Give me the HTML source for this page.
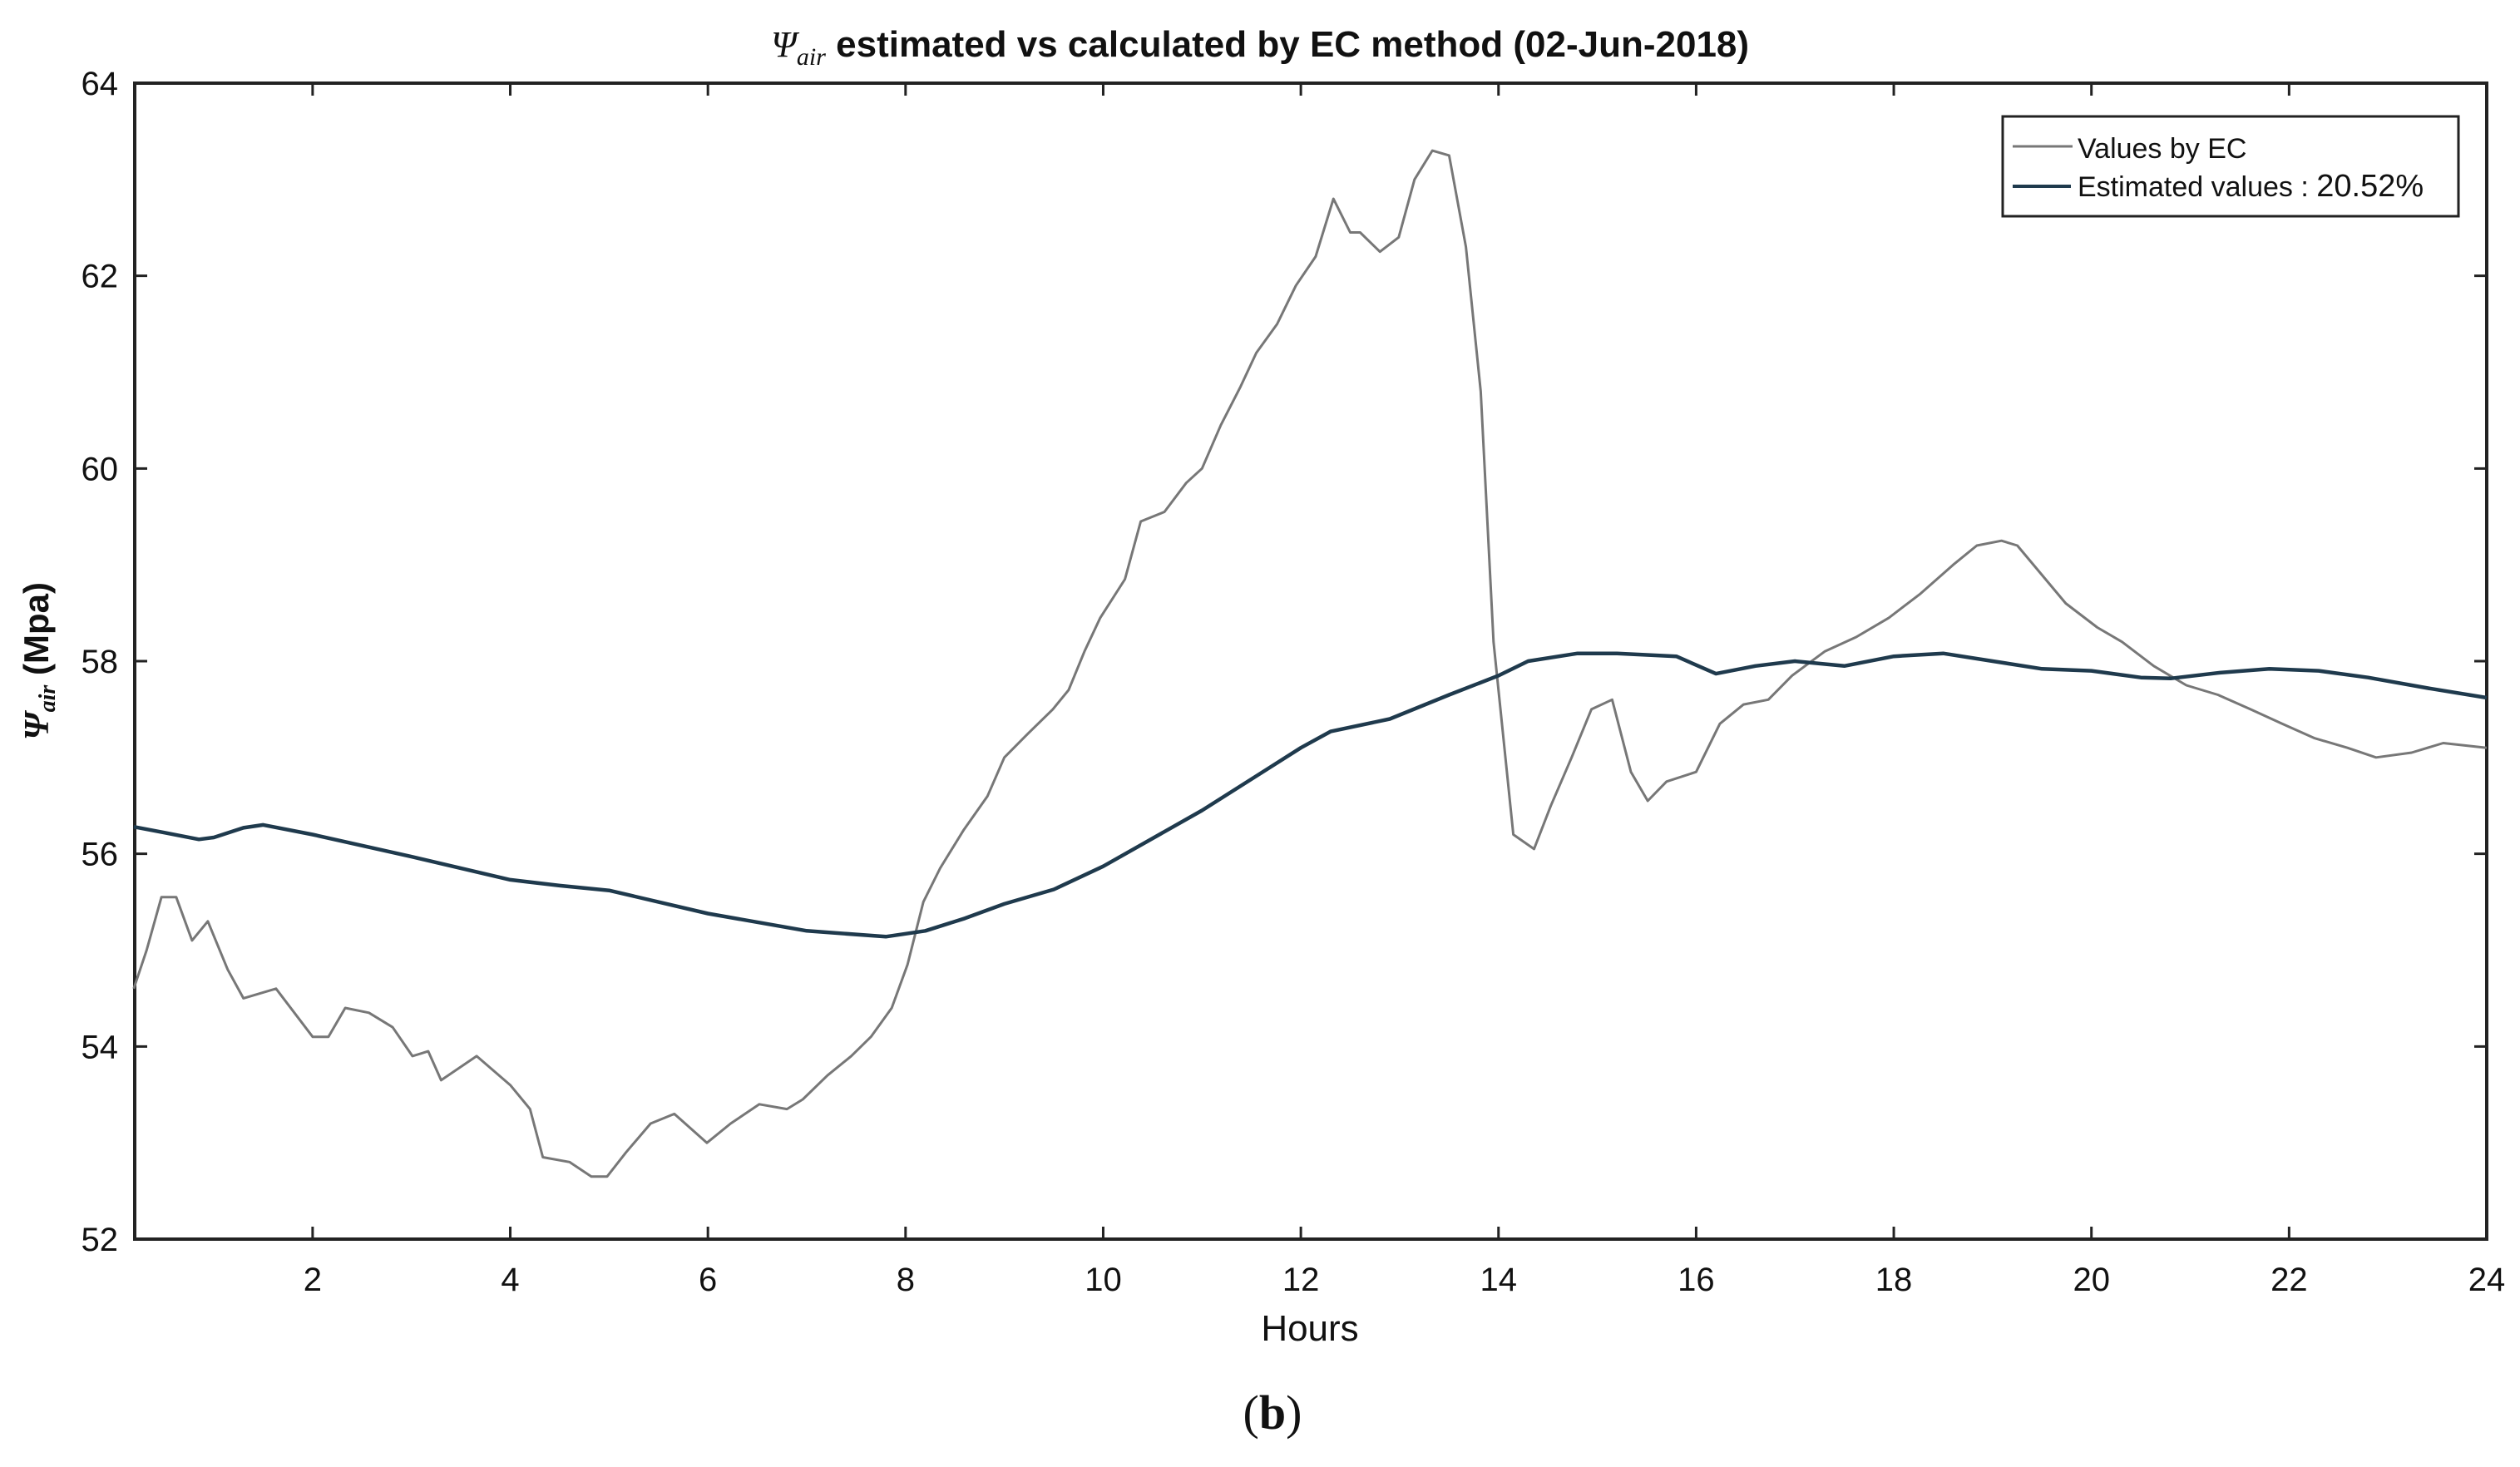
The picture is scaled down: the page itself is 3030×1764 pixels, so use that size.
<!DOCTYPE html>
<html><head><meta charset="utf-8"><style>
html,body{margin:0;padding:0;background:#fff}
svg{display:block}
text{font-family:"Liberation Sans",sans-serif;fill:#111}
</style></head><body>
<svg id="chart" width="3030" height="1764" viewBox="0 0 3030 1764">
<text x="1515" y="68" text-anchor="middle" font-size="44" font-weight="bold"><tspan font-family="Liberation Serif" font-style="italic" font-weight="normal">Ψ</tspan><tspan font-family="Liberation Serif" font-style="italic" font-weight="normal" font-size="30" dy="10">air</tspan><tspan dy="-10">  estimated vs calculated by EC method (02-Jun-2018)</tspan></text>
<g id="axes"></g>
<g id="series"></g>
<text x="1575" y="1612" text-anchor="middle" font-size="44">Hours</text>
<text transform="translate(58,795) rotate(-90)" text-anchor="middle" font-size="42" font-weight="bold"><tspan font-family="Liberation Serif" font-style="italic">Ψ</tspan><tspan font-family="Liberation Serif" font-style="italic" font-size="28" dy="8">air</tspan><tspan dy="-8"> (Mpa)</tspan></text>
<text x="1530" y="1718" text-anchor="middle" font-size="58" font-family="Liberation Serif" style="font-family:'Liberation Serif',serif">(<tspan font-weight="bold">b</tspan>)</text>
<g>
<rect x="2408" y="140" width="548" height="120" fill="#fff" stroke="#222" stroke-width="3"/>
<line x1="2420" y1="176" x2="2492" y2="176" stroke="#777" stroke-width="3"/>
<text x="2498" y="190" font-size="34">Values by EC</text>
<line x1="2420" y1="224" x2="2490" y2="224" stroke="#1f3a4d" stroke-width="4"/>
<text x="2498" y="236" font-size="34">Estimated values : <tspan font-size="38">20.52%</tspan></text>
</g>
</svg>
<script>
const xTicks=[2,4,6,8,10,12,14,16,18,20,22,24];
const yTicks=[52,54,56,58,60,62,64];
const ecHours=[0.19,0.32,0.47,0.62,0.78,0.94,1.14,1.30,1.63,2.0,2.16,2.33,2.57,2.81,3.01,3.17,3.30,3.66,4.0,4.20,4.33,4.60,4.82,4.98,5.17,5.42,5.66,5.99,6.23,6.52,6.80,6.96,7.21,7.45,7.65,7.86,8.02,8.18,8.35,8.59,8.83,9.0,9.24,9.49,9.65,9.81,9.97,10.22,10.38,10.62,10.84,11.0,11.19,11.39,11.55,11.76,11.95,12.15,12.33,12.5,12.6,12.8,12.99,13.15,13.33,13.5,13.67,13.82,13.95,14.15,14.36,14.53,14.74,14.94,15.15,15.34,15.51,15.70,16.0,16.24,16.48,16.73,16.97,17.30,17.62,17.95,18.27,18.60,18.84,19.09,19.25,19.74,20.06,20.31,20.63,20.96,21.28,21.61,21.93,22.26,22.59,22.88,23.24,23.56,24.0];
const ecValues=[54.6,55.0,55.55,55.55,55.1,55.3,54.8,54.5,54.6,54.1,54.1,54.4,54.35,54.2,53.9,53.95,53.65,53.9,53.6,53.35,52.85,52.8,52.65,52.65,52.9,53.2,53.3,53.0,53.2,53.4,53.35,53.45,53.7,53.9,54.1,54.4,54.85,55.5,55.85,56.25,56.6,57.0,57.25,57.5,57.7,58.1,58.45,58.85,59.45,59.55,59.85,60.0,60.45,60.85,61.2,61.5,61.9,62.2,62.8,62.45,62.45,62.25,62.4,63.0,63.3,63.25,62.3,60.8,58.2,56.2,56.05,56.5,57.0,57.5,57.6,56.85,56.55,56.75,56.85,57.35,57.55,57.6,57.85,58.1,58.25,58.45,58.7,59.0,59.2,59.25,59.2,58.6,58.35,58.2,57.95,57.75,57.65,57.5,57.35,57.2,57.1,57.0,57.05,57.15,57.1];
const estHours=[0.19,0.5,0.85,1.0,1.3,1.5,2.0,3.0,4.0,4.5,5.0,6.0,7.0,7.8,8.2,8.6,9.0,9.5,10.0,11.0,12.0,12.3,12.9,13.5,14.0,14.3,14.8,15.2,15.8,16.2,16.6,17.0,17.5,18.0,18.5,19.0,19.5,20.0,20.5,20.8,21.3,21.8,22.3,22.8,23.4,24.0];
const estValues=[56.28,56.22,56.15,56.17,56.27,56.3,56.2,55.97,55.73,55.67,55.62,55.38,55.2,55.14,55.2,55.33,55.48,55.63,55.87,56.45,57.1,57.27,57.4,57.65,57.85,58.0,58.08,58.08,58.05,57.87,57.95,58.0,57.95,58.05,58.08,58.0,57.92,57.9,57.83,57.82,57.88,57.92,57.9,57.83,57.72,57.62];

const L=162,R=2990,T=100,B=1490,xMin=0.2,xMax=24,yMin=52,yMax=64;
const xs=h=>L+(h-xMin)/(xMax-xMin)*(R-L);
const ys=v=>B-(v-yMin)/(yMax-yMin)*(B-T);
const NS="http://www.w3.org/2000/svg";
const axes=document.getElementById('axes'),series=document.getElementById('series');
function mk(tag,attrs,parent){const e=document.createElementNS(NS,tag);for(const k in attrs)e.setAttribute(k,attrs[k]);parent.appendChild(e);return e;}

const frame=mk('rect',{x:L,y:T,width:R-L,height:B-T,fill:'none',stroke:'#222','stroke-width':4},axes);



xTicks.forEach(t=>{
  const x=xs(t);
  const tk=mk('path',{d:`M${x},${B}V${B-15}M${x},${T}V${T+15}`,stroke:'#222','stroke-width':3},axes);
  
  
  const lb=mk('text',{x:x,y:B+62,'text-anchor':'middle','font-size':40},axes);
  lb.textContent=t;
  
  
});
yTicks.forEach(t=>{
  const y=ys(t);
  const tk=mk('path',{d:`M${L},${y}H${L+15}M${R},${y}H${R-15}`,stroke:'#222','stroke-width':3},axes);
  
  
  const lb=mk('text',{x:L-20,y:y+14,'text-anchor':'end','font-size':40},axes);
  lb.textContent=t;
  
  
});

function line(hs,vs,color,w,name){
  const d=hs.map((h,i)=>(i?'L':'M')+xs(h).toFixed(1)+','+ys(vs[i]).toFixed(1)).join('');
  const p=mk('path',{d:d,fill:'none',stroke:color,'stroke-width':w,'stroke-linejoin':'round'},series);
  
  
}
line(ecHours,ecValues,'#777',3,'ec-values-line');
line(estHours,estValues,'#1f3a4d',4.5,'estimated-values-line');
</script>
</body></html>
